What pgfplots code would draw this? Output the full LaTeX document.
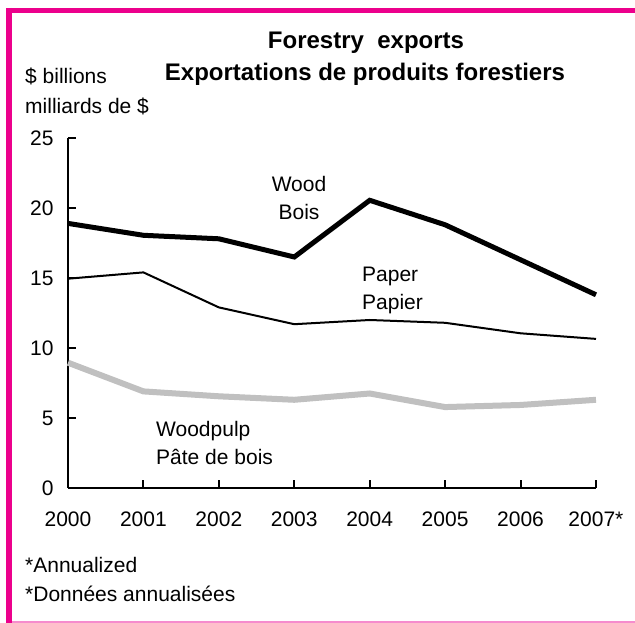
\documentclass[border=0pt]{standalone}
\usepackage{fontspec}
\setmainfont{Liberation Sans}
\usepackage{pgfplots}
\pgfplotsset{compat=1.18}
\definecolor{frame}{RGB}{236,0,140}
\definecolor{framelight}{RGB}{246,140,205}
\definecolor{pulp}{RGB}{192,192,192}
\begin{document}
\begin{tikzpicture}
\useasboundingbox (0pt,0pt) rectangle (635pt,623pt);
\fill[white] (0pt,0pt) rectangle (635pt,623pt);
\draw[frame, line width=5.3pt] (6pt,612.5pt) -- (635pt,612.5pt);
\draw[frame, line width=6pt] (9pt,615.2pt) -- (9pt,0pt);
\draw[framelight, line width=2pt] (12pt,1pt) -- (635pt,1pt);
\begin{axis}[
  at={(68pt,135pt)}, anchor=south west,
  scale only axis, width=528pt, height=350pt,
  xmin=2000, xmax=2007, ymin=0, ymax=25,
  axis x line*=bottom, axis y line*=left,
  axis line style={line width=2.5pt, -},
  xtick={2000,...,2007},
  xticklabels={2000,2001,2002,2003,2004,2005,2006,2007*},
  ytick={0,5,...,25},
  tick align=inside, major tick length=8pt,
  tick style={line width=2pt, black},
  ticklabel style={font=\fontsize{21}{25}\selectfont},
  /pgf/number format/assume math mode=true,
  x tick label style={yshift=-20pt},
  y tick label style={xshift=-11pt},
  clip=false,
]
\addplot[black, line width=5pt, mark=none] coordinates {(2000,18.9)(2001,18.05)(2002,17.8)(2003,16.5)(2004,20.55)(2005,18.8)(2006,16.3)(2007,13.8)};
\addplot[black, line width=2pt, mark=none] coordinates {(2000,14.95)(2001,15.4)(2002,12.9)(2003,11.7)(2004,12.0)(2005,11.8)(2006,11.05)(2007,10.65)};
\addplot[pulp, line width=6pt, mark=none] coordinates {(2000,8.95)(2001,6.9)(2002,6.55)(2003,6.3)(2004,6.75)(2005,5.78)(2006,5.93)(2007,6.3)};
\end{axis}
\node[anchor=base, font=\fontsize{24}{28}\selectfont\bfseries, inner sep=0pt] at (366pt,574.7pt) {Forestry\ \ exports};
\node[anchor=base, font=\fontsize{24}{28}\selectfont\bfseries, inner sep=0pt] at (365pt,542.3pt) {Exportations de produits forestiers};
\node[anchor=base west, font=\fontsize{21}{25}\selectfont, inner sep=0pt] at (25pt,539.7pt) {\$ billions};
\node[anchor=base west, font=\fontsize{21}{25}\selectfont, inner sep=0pt] at (25pt,509.7pt) {milliards de \$};
\node[anchor=base west, font=\fontsize{21}{25}\selectfont, inner sep=0pt] at (25pt,50pt) {*Annualized};
\node[anchor=base west, font=\fontsize{21}{25}\selectfont, inner sep=0pt] at (25pt,21.3pt) {*Données annualisées};
\node[anchor=base, font=\fontsize{21}{25}\selectfont, inner sep=0pt] at (299pt,431.3pt) {Wood};
\node[anchor=base, font=\fontsize{21}{25}\selectfont, inner sep=0pt] at (299pt,403pt) {Bois};
\node[anchor=base west, font=\fontsize{21}{25}\selectfont, inner sep=0pt] at (362pt,341.3pt) {Paper};
\node[anchor=base west, font=\fontsize{21}{25}\selectfont, inner sep=0pt] at (362pt,313pt) {Papier};
\node[anchor=base west, font=\fontsize{21}{25}\selectfont, inner sep=0pt] at (156pt,186.3pt) {Woodpulp};
\node[anchor=base west, font=\fontsize{21}{25}\selectfont, inner sep=0pt] at (156pt,158pt) {Pâte de bois};
\end{tikzpicture}
\end{document}
